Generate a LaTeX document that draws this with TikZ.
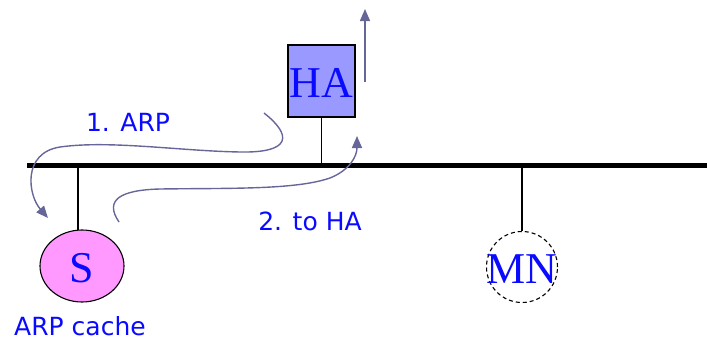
\documentclass[tikz,border=0pt]{standalone}
\usepackage{fontspec}
\setmainfont{Liberation Serif}
\newfontfamily\labelfont{DejaVu Sans}
\usetikzlibrary{arrows.meta,shapes.geometric}
\definecolor{hafill}{HTML}{9999FF}
\definecolor{sfill}{HTML}{FF99FF}
\definecolor{arrowc}{HTML}{666699}
\definecolor{txtblue}{HTML}{0A0AFF}
\tikzset{
  hostlbl/.style={text=txtblue, font=\fontsize{44}{44}\selectfont, inner sep=0pt},
  steplbl/.style={text=txtblue, font=\labelfont\fontsize{25}{25}\selectfont, inner sep=0pt},
  flow/.style={draw=arrowc, line width=1.4pt, -{Triangle[length=12pt,width=10pt]}},
  drop/.style={draw=black, line width=1.1pt},
}
\begin{document}
\begin{tikzpicture}[x=1pt,y=-1pt]
\useasboundingbox (0,0) rectangle (707,340);
% bus
\coordinate (busL) at (27,165);
\coordinate (busR) at (707,165);
\draw[line width=5pt] (busL) -- (busR);
% HA
\node[draw=black, line width=1.1pt, fill=hafill, minimum width=67pt, minimum height=72pt, inner sep=0pt] (HA) at (321.5,81) {};
\node[hostlbl] (HAt) at (321.5,83) {HA};
\draw[drop] (HA.south) -- (HA.south |- busL);
% S
\node[draw=black, line width=1.1pt, fill=sfill, ellipse, minimum width=84pt, minimum height=72pt, inner sep=0pt] (S) at (82,266) {};
\node[hostlbl] (St) at (82,268) {S};
\coordinate (Stop) at (78,230);
\draw[drop] (Stop) -- (Stop |- busL);
\node[steplbl] (cache) at (80,326) {ARP cache};
% MN
\node[draw=black, line width=1.1pt, dashed, dash pattern=on 4pt off 3pt, circle, minimum size=71pt, inner sep=0pt] (MN) at (522,267) {};
\node[hostlbl] (MNt) at (522,269) {MN};
\draw[drop] (MN.north) -- (MN.north |- busL);
% labels
\node[steplbl] (l1) at (128,122) {1. ARP};
\node[steplbl] (l2) at (310,221) {2. to HA};
% arrows
\coordinate (a1s) at (264,113);
\coordinate (a1e) at (48,218);
\draw[flow] (a1s) .. controls (292,135) and (292,153) .. (240,152)
  .. controls (180,151) and (110,140) .. (60,147)
  .. controls (22,153) and (28,195) .. (a1e);
\coordinate (a2s) at (119,222);
\coordinate (a2e) at (357,136);
\draw[flow] (a2s) .. controls (104,200) and (120,190) .. (160,189)
  .. controls (230,188) and (295,190) .. (330,178)
  .. controls (350,170) and (357,156) .. (a2e);
\coordinate (a3s) at (365,82);
\coordinate (a3e) at (365,9);
\draw[flow] (a3s) -- (a3e);
\end{tikzpicture}
\end{document}
